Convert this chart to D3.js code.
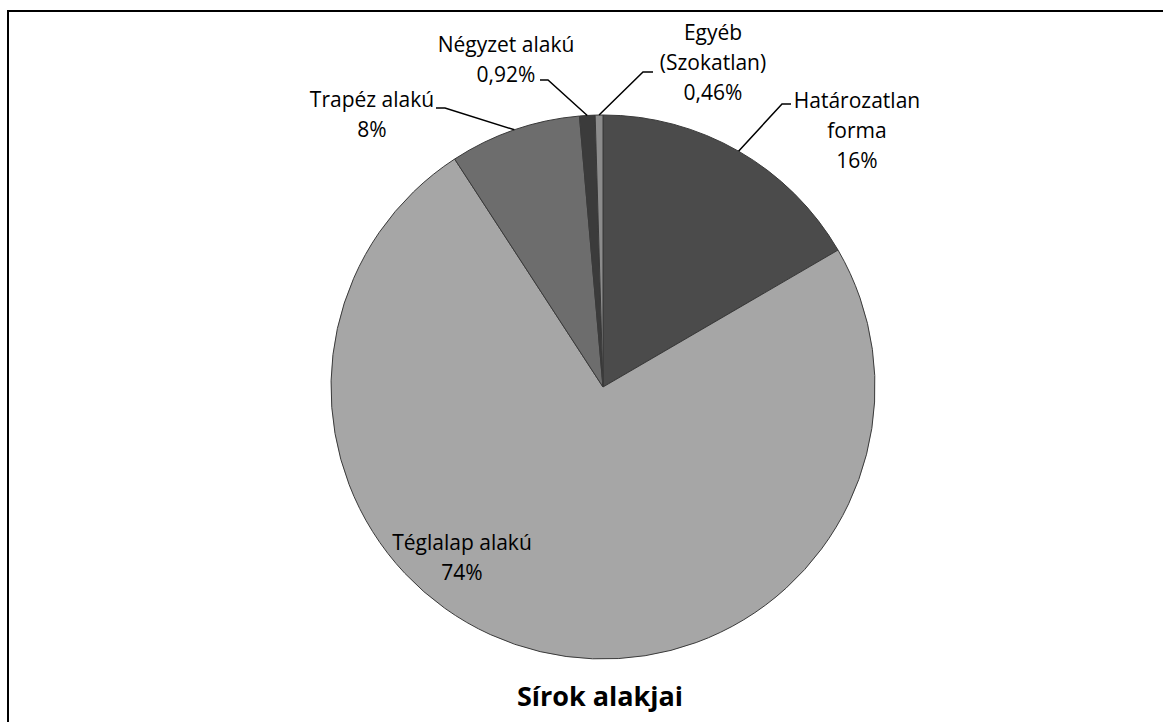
<!DOCTYPE html>
<html>
<head>
<meta charset="utf-8">
<script src="https://cdn.jsdelivr.net/npm/d3@7"></script>
<style>
  body { margin: 0; background: #fff; }
  text { font-family: "Open Sans", sans-serif; fill: #000; }
</style>
</head>
<body>
<div id="chart"></div>
<script>
// data
var categories = ["Határozatlan forma", "Téglalap alakú", "Trapéz alakú", "Négyzet alakú", "Egyéb (Szokatlan)"];
var values = [16.6, 74.2, 7.8, 0.92, 0.46];
var valueLabels = ["16%", "74%", "8%", "0,92%", "0,46%"];
var labelLines = [["Határozatlan", "forma"], ["Téglalap alakú"], ["Trapéz alakú"], ["Négyzet alakú"], ["Egyéb", "(Szokatlan)"]];
var colors = ["#4b4b4b", "#a6a6a6", "#6d6d6d", "#3b3b3b", "#8c8c8c"];
var title = "Sírok alakjai";

var svgWidth = 1163;
var svgHeight = 722;
var cx = 603, cy = 387, radius = 272;

// label layout: text centre, first baseline, leader elbow and end (null = inside label)
var labelLayout = [
  { x: 857, y: 108, elbow: [782, 104], end: [791, 104] },
  { x: 462, y: 550, elbow: null, end: null },
  { x: 372, y: 107, elbow: [445, 108], end: [436, 108] },
  { x: 506, y: 52, elbow: [548, 80], end: [540, 80] },
  { x: 713, y: 40, elbow: [643, 72], end: [653, 72] }
];

var svg = d3.select("#chart")
  .append("svg")
  .attr("width", svgWidth)
  .attr("height", svgHeight);

// frame (only top and left edges visible)
svg.append("line")
  .attr("x1", 7).attr("y1", 11).attr("x2", svgWidth).attr("y2", 11)
  .attr("stroke", "#000").attr("stroke-width", 2);
svg.append("line")
  .attr("x1", 8).attr("y1", 10).attr("x2", 8).attr("y2", svgHeight)
  .attr("stroke", "#000").attr("stroke-width", 2);

var data = categories.map(function(c, i) {
  return { name: c, value: values[i], label: valueLabels[i], lines: labelLines[i], color: colors[i], layout: labelLayout[i] };
});

var pie = d3.pie().sort(null).value(d => d.value);
var arc = d3.arc().innerRadius(0).outerRadius(radius);
var arcs = pie(data);

var chartGroup = svg.append("g")
  .attr("transform", `translate(${cx}, ${cy})`);

chartGroup.selectAll("path")
  .data(arcs)
  .enter()
  .append("path")
  .attr("d", arc)
  .attr("fill", d => d.data.color)
  .attr("stroke", "#3a3a3a")
  .attr("stroke-width", 1);

// leader lines
arcs.forEach(function(d) {
  var l = d.data.layout;
  if (!l.elbow) return;
  var mid = (d.startAngle + d.endAngle) / 2;
  var p0 = [cx + radius * Math.sin(mid), cy - radius * Math.cos(mid)];
  svg.append("polyline")
    .attr("points", [p0, l.elbow, l.end].map(p => p.join(",")).join(" "))
    .attr("fill", "none")
    .attr("stroke", "#000")
    .attr("stroke-width", 1.5);
});

// labels
var lineHeight = 30;
arcs.forEach(function(d) {
  var l = d.data.layout;
  var lines = d.data.lines.concat([d.data.label]);
  var t = svg.append("text")
    .attr("text-anchor", "middle")
    .style("font-size", "21px");
  lines.forEach(function(s, i) {
    t.append("tspan")
      .attr("x", l.x)
      .attr("y", l.y + i * lineHeight)
      .text(s);
  });
});

// title
svg.append("text")
  .attr("x", 600)
  .attr("y", 706)
  .attr("text-anchor", "middle")
  .style("font-size", "27px")
  .style("font-weight", "bold")
  .text(title);
</script>
</body>
</html>
